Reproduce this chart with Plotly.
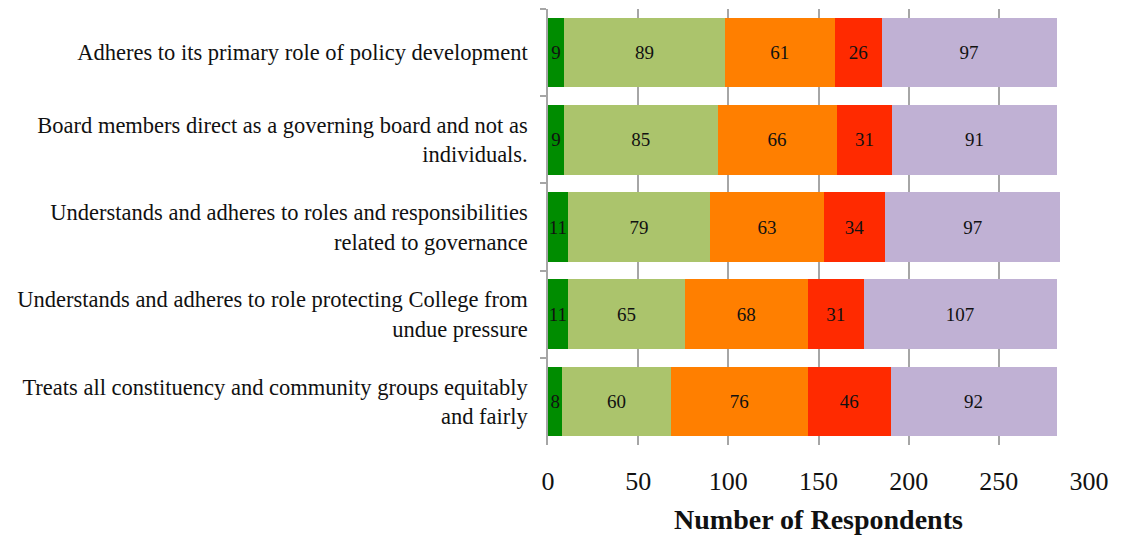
import plotly.graph_objects as go

# Survey statements (top to bottom)
statements = [
    "Adheres to its primary role of policy development",
    "Board members direct as a governing board and not as<br>individuals.",
    "Understands and adheres to roles and responsibilities<br>related to governance",
    "Understands and adheres to role protecting College from<br>undue pressure",
    "Treats all constituency and community groups equitably<br>and fairly",
]

# Response counts per rating level, one value per statement
strongly_disagree = [9, 9, 11, 11, 8]
disagree = [89, 85, 79, 65, 60]
neutral = [61, 66, 63, 68, 76]
agree = [26, 31, 34, 31, 46]
strongly_agree = [97, 91, 97, 107, 92]

series = [
    ("Strongly Disagree", strongly_disagree, "#008c00"),
    ("Disagree", disagree, "#abc46c"),
    ("Neutral", neutral, "#ff7f00"),
    ("Agree", agree, "#ff2a00"),
    ("Strongly Agree", strongly_agree, "#c0b1d4"),
]

x_ticks = [0, 50, 100, 150, 200, 250, 300]

SERIF = "Liberation Serif"

fig = go.Figure()
for name, values, color in series:
    fig.add_trace(
        go.Bar(
            name=name,
            y=statements,
            x=values,
            orientation="h",
            marker=dict(color=color, line=dict(width=0)),
            text=values,
            texttemplate="%{text}",
            textposition="inside",
            insidetextanchor="middle",
            constraintext="none",
            textfont=dict(family=SERIF, size=19, color="#111111"),
            cliponaxis=False,
            showlegend=False,
        )
    )

fig.update_layout(
    width=1125,
    height=535,
    barmode="stack",
    bargap=0.2,
    paper_bgcolor="white",
    plot_bgcolor="white",
    margin=dict(l=548, r=36, t=9, b=90),
    font=dict(family=SERIF, color="#111111"),
    uniformtext=dict(mode=False),
)

fig.update_xaxes(
    range=[0, 300],
    tickvals=x_ticks,
    ticktext=[str(v) for v in x_ticks],
    showgrid=True,
    gridcolor="#a6a6a6",
    gridwidth=1.5,
    zeroline=False,
    showline=False,
    ticks="",
    automargin=False,
    tickfont=dict(family=SERIF, size=26, color="#111111"),
    ticklabelstandoff=18,
    title=dict(
        text="<b>Number of Respondents</b>",
        font=dict(family=SERIF, size=28, color="#111111"),
        standoff=18,
    ),
)

fig.update_yaxes(
    type="category",
    autorange="reversed",
    automargin=False,
    showline=True,
    linecolor="#a6a6a6",
    linewidth=1.5,
    ticks="outside",
    tickson="boundaries",
    ticklen=6,
    tickcolor="#a6a6a6",
    tickwidth=1.5,
    tickfont=dict(family=SERIF, size=22.5, color="#111111"),
    ticklabelstandoff=14,
    showgrid=False,
)

fig.write_html("out.html")
